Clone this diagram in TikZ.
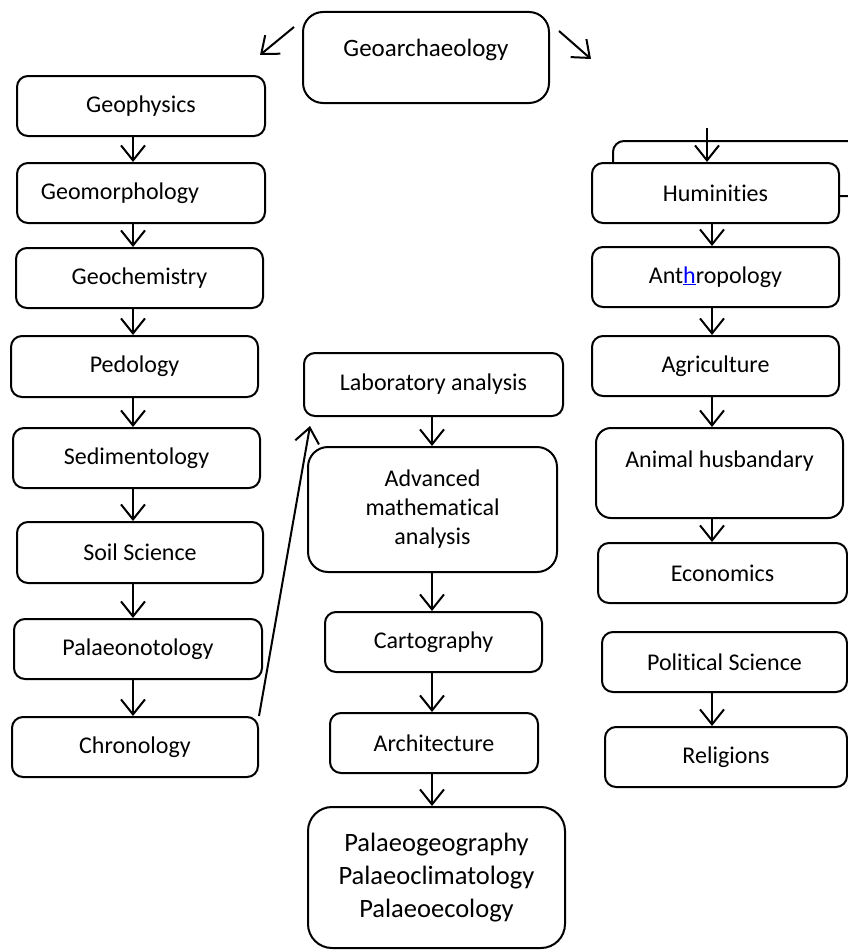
\documentclass[tikz,border=0pt]{standalone}
\usepackage{fontspec}
\setmainfont{Carlito}[Ligatures=NoCommon]
\usetikzlibrary{arrows.meta,calc,positioning}

\begin{document}
\begin{tikzpicture}[x=1pt,y=-1pt,
    every node/.append style={font=\fontsize{24}{29}\selectfont},
    topic/.style={draw,rounded corners=11pt,line width=2pt,fill=white,
      align=center,inner sep=0pt,minimum height=60pt},
    bigtopic/.style={topic,rounded corners=20pt},
    flow/.style={line width=2pt,-{Straight Barb[length=15pt,width=24pt,line width=2pt]}}
  ]
  \clip (0,0) rectangle (848,950);

  \node[bigtopic,minimum width=246pt,minimum height=91pt,text depth=20pt,
    font=\fontsize{25}{30}\selectfont] (geo) at (426,57.5) {Geoarchaeology};

  % left column
  \node[topic,minimum width=248pt] (geophys) at (141,106) {Geophysics};
  \node[topic,minimum width=248pt] (geomorph) at (141,193) {Geomorphology\hspace*{42pt}};
  \node[topic,minimum width=247pt] (geochem) at (139.5,278) {Geochemistry};
  \node[topic,minimum width=247pt,minimum height=61pt] (pedo) at (134.5,366.5) {Pedology};
  \node[topic,minimum width=247pt] (sedi) at (136.5,458) {Sedimentology};
  \node[topic,minimum width=246pt,minimum height=61pt] (soil) at (140,552.5) {Soil Science};
  \node[topic,minimum width=248pt] (palaeont) at (138,649) {Palaeonotology};
  \node[topic,minimum width=246pt] (chrono) at (135,747) {Chronology};

  % middle column
  \node[topic,minimum width=259pt,minimum height=63pt] (lab) at (433.5,384.5) {Laboratory analysis};
  \node[bigtopic,minimum width=249pt,minimum height=125pt] (adv) at (432.5,509.5)
    {Advanced\\mathematical\\analysis};
  \node[topic,minimum width=217pt] (carto) at (433.5,642) {Cartography};
  \node[topic,minimum width=208pt] (archi) at (434,743) {Architecture};
  \node[bigtopic,minimum width=257pt,minimum height=141pt,rounded corners=24pt,
    font=\fontsize{26.5}{33}\selectfont] (palaeo) at (436.5,877.5)
    {Palaeogeography\\Palaeoclimatology\\Palaeoecology};

  % right column
  \node[topic,minimum width=267pt,minimum height=55pt] (hidden) at (746.5,168.5) {};
  \node[topic,minimum width=247pt] (hum) at (715.5,193) {Huminities};
  \node[topic,minimum width=247pt] (anthro) at (715.5,277)
    {Ant\textcolor{blue}{\underline{h}}ropology};
  \node[topic,minimum width=247pt] (agri) at (715.5,366) {Agriculture};
  \node[topic,rounded corners=15pt,minimum width=247pt,minimum height=90pt,text depth=27pt]
    (animal) at (719.5,473) {Animal husbandary};
  \node[topic,minimum width=249pt] (econ) at (722.5,573) {Economics};
  \node[topic,minimum width=245pt] (polit) at (724.5,662) {Political Science};
  \node[topic,minimum width=242pt] (relig) at (726,757) {Religions};

  \coordinate (lcol) at (133,0);
  \coordinate (mcol) at (432,0);
  \coordinate (rcol) at (712,0);
  \coordinate (humtop) at (707,128);

  \draw[flow] ($(geo.north west)+(-8,16)$) -- ($(geo.north west)+(-42,44)$);
  \draw[flow] ($(geo.north east)+(9,20)$) -- ($(geo.north east)+(41,48)$);

  \foreach \a/\b in {geophys/geomorph,geomorph/geochem,geochem/pedo,pedo/sedi,
      sedi/soil,soil/palaeont,palaeont/chrono}
    \draw[flow] (\a.south -| lcol) -- (\b.north -| lcol);

  \foreach \a/\b in {lab/adv,adv/carto,carto/archi,archi/palaeo}
    \draw[flow] (\a.south -| mcol) -- (\b.north -| mcol);

  \draw[flow] (humtop) -- (humtop |- hum.north);
  \foreach \a/\b in {hum/anthro,anthro/agri,agri/animal,animal/econ,polit/relig}
    \draw[flow] (\a.south -| rcol) -- (\b.north -| rcol);

  \draw[flow] (chrono.north east) -- ($(lab.south west)+(7,9)$);
\end{tikzpicture}
\end{document}
